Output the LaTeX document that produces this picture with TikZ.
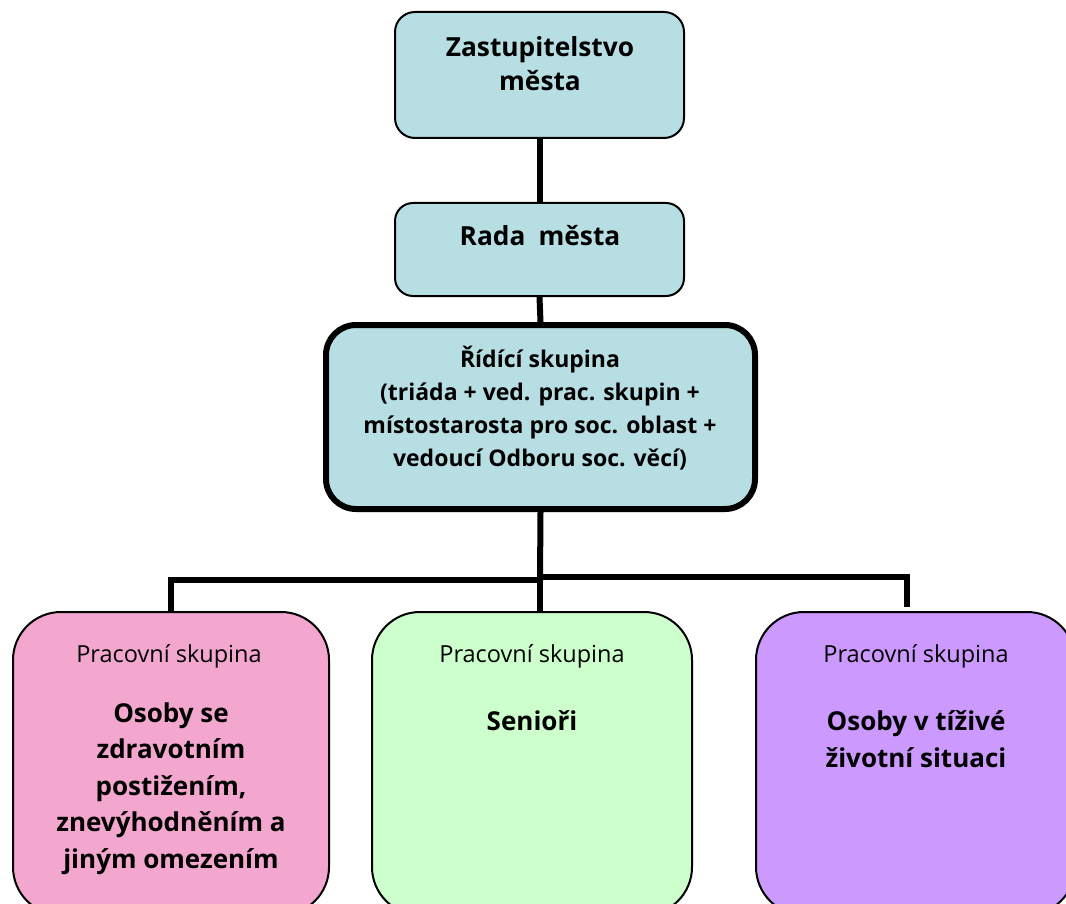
\documentclass[tikz,border=0pt]{standalone}
\usepackage{fontspec}
\setmainfont{Open Sans}
\definecolor{boxcyan}{HTML}{B7DFE3}
\definecolor{boxpink}{HTML}{F4A7CE}
\definecolor{boxgreen}{HTML}{CCFFCC}
\definecolor{boxpurple}{HTML}{CC99FF}
\begin{document}
\begin{tikzpicture}[x=1pt,y=-1pt,
  topbox/.style={draw=black, line width=2pt, fill=boxcyan, rounded corners=20pt, minimum width=289pt, inner sep=0pt},
  mainbox/.style={draw=black, line width=6pt, fill=boxcyan, rounded corners=30pt, minimum width=429pt, minimum height=184pt, inner sep=0pt},
  groupbox/.style={draw=black, line width=2pt, rounded corners=48pt, minimum height=303pt, inner sep=0pt},
  conn/.style={draw=black, line width=6pt, line join=miter},
  bigtxt/.style={anchor=base, align=center, inner sep=0pt, font=\fontsize{26.3}{34}\selectfont\bfseries},
  midtxt/.style={anchor=base, align=center, inner sep=0pt, font=\fontsize{23}{33}\selectfont\bfseries},
  grptxt/.style={anchor=base, align=center, inner sep=0pt, font=\fontsize{26}{36.5}\selectfont\bfseries},
  smalltxt/.style={anchor=base, inner sep=0pt, font=\fontsize{23.5}{27}\selectfont}
]
\useasboundingbox (0,0) rectangle (1066,904);
\clip (0,0) rectangle (1066,904);

% boxes
\node[topbox, minimum height=126pt] (zast) at (539.5,75) {};
\node[topbox, minimum height=93pt, rounded corners=18pt] (rada) at (539.5,249.5) {};
\node[mainbox] (ridici) at (540.5,417) {};
\node[groupbox, fill=boxpink, minimum width=316pt] (pink) at (171,763.5) {};
\node[groupbox, fill=boxgreen, minimum width=320pt] (green) at (532,763.5) {};
\node[groupbox, fill=boxpurple, minimum width=319pt] (purple) at (915.5,763.5) {};

% connectors
\coordinate (jl) at (540,580);
\coordinate (jr) at (540,577);
\coordinate (rend) at (907,607);
\draw[conn] (zast.south) -- (rada.north);
\draw[conn] (rada.south) -- (ridici.north);
\draw[conn] (ridici.south) -- (jl);
\draw[conn] (jl) -| (pink.north);
\draw[conn] (jl) -- (jl |- green.north);
\draw[conn] (jr) -| (rend);

% texts (anchor base = baseline of last line)
\node[bigtxt] (tzast) at (540,91) {Zastupitelstvo\\města};
\node[bigtxt] (trada) at (540,246) {Rada\enspace města};
\node[midtxt] (tridici) at (540,466) {Řídící skupina\\(triáda + ved. prac. skupin +\\místostarosta pro soc. oblast +\\vedoucí Odboru soc. věcí)};
\node[smalltxt] (p1) at (169,662) {Pracovní skupina};
\node[smalltxt] (p2) at (532,662) {Pracovní skupina};
\node[smalltxt] (p3) at (916,662) {Pracovní skupina};
\node[grptxt] (g1) at (171,868) {Osoby se\\zdravotním\\postižením,\\znevýhodněním a\\jiným omezením};
\node[grptxt] (g2) at (532,730) {Senioři};
\node[grptxt] (g3) at (916,767) {Osoby v tíživé\\životní situaci};
\end{tikzpicture}
\end{document}
